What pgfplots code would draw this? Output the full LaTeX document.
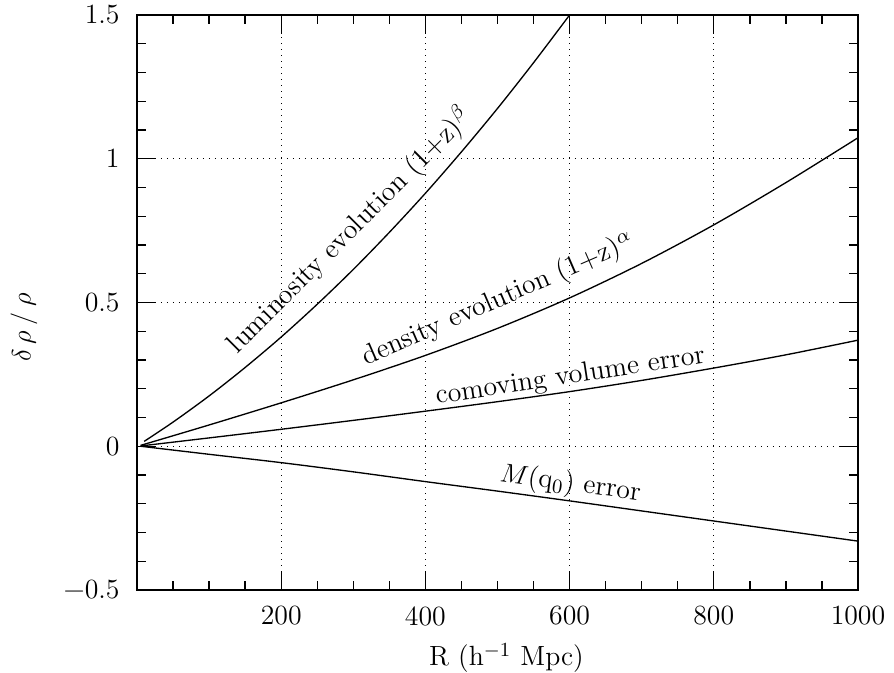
\documentclass[border=0pt]{standalone}
\usepackage{fontspec}
\usepackage{pgfplots}
\pgfplotsset{compat=1.18}

% 1 px of the reference = 0.45pt
\newcommand\lbl{\fontsize{12.5}{15}\selectfont}

\begin{document}
\begin{tikzpicture}
\begin{axis}[
    scale only axis,
    width=324.45pt, height=258.75pt,
    xmin=0, xmax=1000, ymin=-0.5, ymax=1.5,
    xtick={0,200,400,600,800,1000},
    xticklabels={,200,400,600,800,1000},
    ytick={-0.5,0,0.5,1,1.5},
    yticklabels={−0.5,0,0.5,1,1.5},
    minor x tick num=3, minor y tick num=4,
    tick align=inside,
    major tick length=8.5pt, minor tick length=4pt,
    every tick/.style={black, line width=0.6pt},
    axis line style={line width=0.9pt},
    grid=major,
    major grid style={black, line width=0.5pt, dash pattern=on 0.6pt off 2.1pt},
    ticklabel style={font=\lbl\addfontfeatures{LetterSpace=10}},
    xticklabel style={yshift=-3.9pt},
    yticklabel style={xshift=-4.3pt},
    xlabel={R (h$^{-1}$ Mpc)},
    xlabel style={font=\lbl\addfontfeatures{LetterSpace=20}, at={(rel axis cs:0.5125,-0.1183)}, anchor=center},
    ylabel={$\delta\mkern3mu\rho\mkern4mu/\mkern4mu\rho$},
    ylabel style={font=\lbl, at={(rel axis cs:-0.1569,0.457)}, anchor=center},
]
% luminosity evolution
\addplot[black, line width=0.6pt, smooth] coordinates {
    (10,0.017) (50,0.084) (100,0.175) (150,0.274) (200,0.38)
    (250,0.494) (300,0.615) (350,0.744) (400,0.88) (450,1.024)
    (500,1.175) (550,1.334) (600,1.5)
};
% density evolution
\addplot[black, line width=0.6pt, smooth] coordinates {
    (5,0.003) (100,0.074) (200,0.151) (300,0.231) (400,0.316) (500,0.41)
    (600,0.516) (700,0.636) (800,0.77) (900,0.917) (1000,1.073)
};
% comoving volume error
\addplot[black, line width=0.6pt, smooth] coordinates {
    (5,0.001) (100,0.029) (200,0.059) (300,0.09) (400,0.122) (500,0.155)
    (600,0.19) (700,0.229) (800,0.272) (900,0.318) (1000,0.369)
};
% M(q0) error
\addplot[black, line width=0.6pt, smooth] coordinates {
    (5,0) (100,-0.028) (200,-0.057) (300,-0.089) (400,-0.123) (500,-0.156)
    (600,-0.19) (700,-0.225) (800,-0.26) (900,-0.295) (1000,-0.33)
};

\node[font=\lbl, rotate=45, inner sep=0pt] at (axis cs:295,0.750) {luminosity evolution (1+z)$^\beta$};
\node[font=\lbl, rotate=23.5, inner sep=0pt] at (axis cs:501,0.508) {density evolution (1+z)$^\alpha$};
\node[font=\lbl, rotate=8.7, inner sep=0pt] at (axis cs:601,0.242) {comoving volume error};
\node[font=\lbl, rotate=-7.6, inner sep=0pt] at (axis cs:601,-0.132) {$M$(q$_0$) error};

\coordinate (SW) at (rel axis cs:0,0);
\coordinate (NE) at (rel axis cs:1,1);
\end{axis}
\pgfresetboundingbox
\path[use as bounding box] ([xshift=-61.65pt,yshift=-37.35pt]SW) rectangle ([xshift=16.2pt,yshift=6.75pt]NE);
\end{tikzpicture}
\end{document}
